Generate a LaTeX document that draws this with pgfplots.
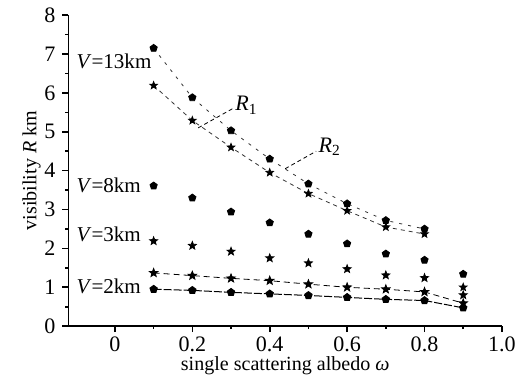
\documentclass[border=0pt]{standalone}
\usepackage{fontspec}
\setmainfont{Liberation Serif}
\usepackage{pgfplots}
\pgfplotsset{compat=1.18}
\usetikzlibrary{plotmarks}
\pgfdeclareplotmark{fstar}{%
  \pgfpathmoveto{\pgfpointpolar{90}{1.3\pgfplotmarksize}}%
  \pgfpathlineto{\pgfpointpolar{126}{0.55\pgfplotmarksize}}%
  \pgfpathlineto{\pgfpointpolar{162}{1.3\pgfplotmarksize}}%
  \pgfpathlineto{\pgfpointpolar{198}{0.55\pgfplotmarksize}}%
  \pgfpathlineto{\pgfpointpolar{234}{1.3\pgfplotmarksize}}%
  \pgfpathlineto{\pgfpointpolar{270}{0.55\pgfplotmarksize}}%
  \pgfpathlineto{\pgfpointpolar{306}{1.3\pgfplotmarksize}}%
  \pgfpathlineto{\pgfpointpolar{342}{0.55\pgfplotmarksize}}%
  \pgfpathlineto{\pgfpointpolar{18}{1.3\pgfplotmarksize}}%
  \pgfpathlineto{\pgfpointpolar{54}{0.55\pgfplotmarksize}}%
  \pgfpathclose
  \pgfusepathqfillstroke}
\begin{document}
\begin{tikzpicture}
\begin{axis}[
  scale only axis,
  width=216pt, height=155pt,
  xmin=-0.12, xmax=1.0, ymin=0, ymax=8,
  axis lines*=left,
  axis line style={line width=0.9pt},
  xtick={0,0.2,0.4,0.6,0.8,1.0},
  xticklabels={0,0.2,0.4,0.6,0.8,1.0},
  ytick={0,1,2,3,4,5,6,7,8},
  minor x tick num=1, minor y tick num=1,
  tick align=outside,
  major tick length=3pt, minor tick length=1.5pt,
  tick style={line width=0.8pt, black},
  /pgf/number format/assume math mode=true,
  ticklabel style={font=\fontsize{11}{12}\selectfont},
  xticklabel style={yshift=1pt},
  xlabel={single scattering albedo \textit{ω}},
  ylabel={visibility \textit{R} km},
  label style={font=\fontsize{10}{12}\selectfont},
  xlabel style={yshift=4.5pt},
  ylabel style={yshift=-5pt},
  clip=false,
]
% V = 13 km, R1
\addplot[black!80, line width=0.4pt, dash pattern=on 1.5pt off 3pt, mark=pentagon*, mark size=1.9pt, mark options={solid,black}] coordinates {
 (0.1,7.15) (0.2,5.88) (0.3,5.03) (0.4,4.3) (0.5,3.66) (0.6,3.15) (0.7,2.72) (0.8,2.5)};
% V = 13 km, R2
\addplot[black!80, line width=0.4pt, dash pattern=on 2pt off 2pt, mark=fstar, mark size=1.5pt, mark options={solid,black}] coordinates {
 (0.1,6.19) (0.2,5.29) (0.3,4.6) (0.4,3.95) (0.5,3.41) (0.6,2.97) (0.7,2.55) (0.8,2.37)};
% V = 8 km
\addplot[black, only marks, mark=pentagon*, mark size=1.9pt] coordinates {
 (0.1,3.61) (0.2,3.3) (0.3,2.94) (0.4,2.66) (0.5,2.37) (0.6,2.12) (0.7,1.86) (0.8,1.70) (0.9,1.34)};
\addplot[black, only marks, mark=fstar, mark size=1.5pt] coordinates {
 (0.9,1.0)};
% V = 3 km
\addplot[black, only marks, mark=fstar, mark size=1.6pt] coordinates {
 (0.1,2.19) (0.2,2.07) (0.3,1.92) (0.4,1.75) (0.5,1.62) (0.6,1.47) (0.7,1.31) (0.8,1.24) (0.9,0.8)};
% V = 2 km, upper
\addplot[black, line width=0.4pt, dash pattern=on 3pt off 2pt, mark=fstar, mark size=1.7pt, mark options={solid}] coordinates {
 (0.1,1.37) (0.2,1.3) (0.3,1.23) (0.4,1.17) (0.5,1.08) (0.6,1.0) (0.7,0.95) (0.8,0.88) (0.9,0.59)};
% V = 2 km, lower
\addplot[black, line width=0.5pt, dash pattern=on 4pt off 1pt, mark=pentagon*, mark size=1.9pt, mark options={solid}] coordinates {
 (0.1,0.95) (0.2,0.92) (0.3,0.87) (0.4,0.83) (0.5,0.79) (0.6,0.74) (0.7,0.69) (0.8,0.66) (0.9,0.47)};
% labels
\node[anchor=west, font=\fontsize{10.5}{12}\selectfont, inner sep=0pt] at (axis cs:-0.1,6.8) {\textit{V}=13km};
\node[anchor=west, font=\fontsize{10.5}{12}\selectfont, inner sep=0pt] at (axis cs:-0.1,3.61) {\textit{V}=8km};
\node[anchor=west, font=\fontsize{10.5}{12}\selectfont, inner sep=0pt] at (axis cs:-0.1,2.37) {\textit{V}=3km};
\node[anchor=west, font=\fontsize{10.5}{12}\selectfont, inner sep=0pt] at (axis cs:-0.1,1.03) {\textit{V}=2km};
\draw[line width=0.4pt, dash pattern=on 2pt off 1.5pt] (axis cs:0.215,5.1) -- (axis cs:0.305,5.6);
\node[anchor=west, font=\fontsize{11}{12}\selectfont, inner sep=1pt] at (axis cs:0.305,5.68) {\textit{R}\textsubscript{1}};
\draw[line width=0.4pt, dash pattern=on 2pt off 1.5pt] (axis cs:0.44,4.05) -- (axis cs:0.52,4.5);
\node[anchor=west, font=\fontsize{11}{12}\selectfont, inner sep=1pt] at (axis cs:0.52,4.62) {\textit{R}\textsubscript{2}};
\coordinate (bbl) at (axis cs:-0.297,-1.316);
\coordinate (btr) at (axis cs:1.039,8.39);
\end{axis}
\pgfresetboundingbox
\useasboundingbox (bbl) rectangle (btr);
\end{tikzpicture}
\end{document}
